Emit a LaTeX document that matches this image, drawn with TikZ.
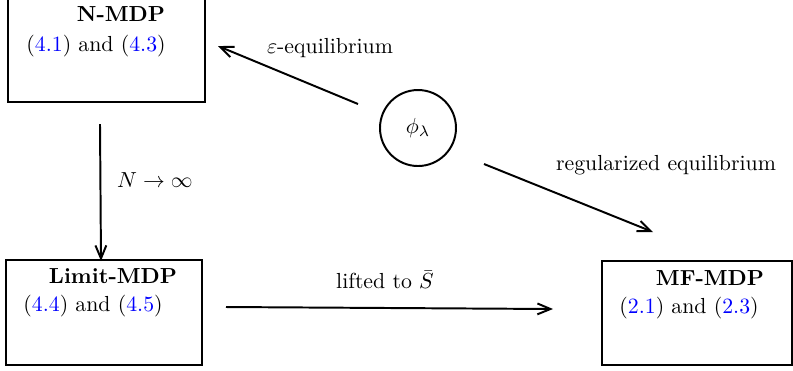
\documentclass[tikz,border=0pt]{standalone}
\usetikzlibrary{arrows.meta}
\newcommand{\pxu}{0.459pt}
\tikzset{
  box/.style={draw, line width=0.9pt, inner sep=0pt},
  conn/.style={line width=0.9pt, -{Straight Barb[length=6pt,width=5pt,line width=0.9pt]}},
  lbl/.style={inner sep=0pt},
  ref/.style={inner sep=0pt, anchor=west},
}
\newcommand{\eqr}[1]{(\textcolor{blue}{#1})}
\begin{document}
\begin{tikzpicture}[x=\pxu, y=-\pxu]
\useasboundingbox (0,0) rectangle (793,370);
\clip (0,0) rectangle (793,370);
% boxes
\node[box, minimum width=197*\pxu, minimum height=130*\pxu] (nbox) at (106.5,37) {};
\node[box, minimum width=196*\pxu, minimum height=105*\pxu] (lbox) at (104,312.5) {};
\node[box, minimum width=190*\pxu, minimum height=104*\pxu] (mbox) at (697,313) {};
% titles and references
\node[lbl] (ntitle) at (121,14) {\textbf{N-MDP}};
\node[ref] (nref) at (26,46) {\eqr{4.1} and \eqr{4.3}};
\node[lbl] (ltitle) at (113,276) {\textbf{Limit-MDP}};
\node[ref] (lref) at (23,306) {\eqr{4.4} and \eqr{4.5}};
\node[lbl] (mtitle) at (710,278) {\textbf{MF-MDP}};
\node[ref] (mref) at (619,308) {\eqr{2.1} and \eqr{2.3}};
% circle
\node[draw, circle, line width=0.9pt, minimum size=76*\pxu, inner sep=0pt] (phi) at (418,128) {$\phi_\lambda$};
% arrow end points
\coordinate (e1) at (358,104);
\coordinate (e2) at (218,46);
\coordinate (n1) at (100,124);
\coordinate (n2) at (101,261);
\coordinate (r1) at (484,164);
\coordinate (r2) at (653,232);
\coordinate (l1) at (226,307);
\coordinate (l2) at (553,309);
% connectors
\draw[conn] (e1) -- (e2);
\draw[conn] (n1) -- (n2);
\draw[conn] (r1) -- (r2);
\draw[conn] (l1) -- (l2);
% labels
\node[lbl] (elbl) at (330,48) {$\varepsilon$-equilibrium};
\node[lbl] (nlbl) at (155,180) {$N\to\infty$};
\node[lbl] (rlbl) at (666,165) {regularized equilibrium};
\node[lbl] (llbl) at (385,280) {lifted to $\bar S$};
\end{tikzpicture}
\end{document}
